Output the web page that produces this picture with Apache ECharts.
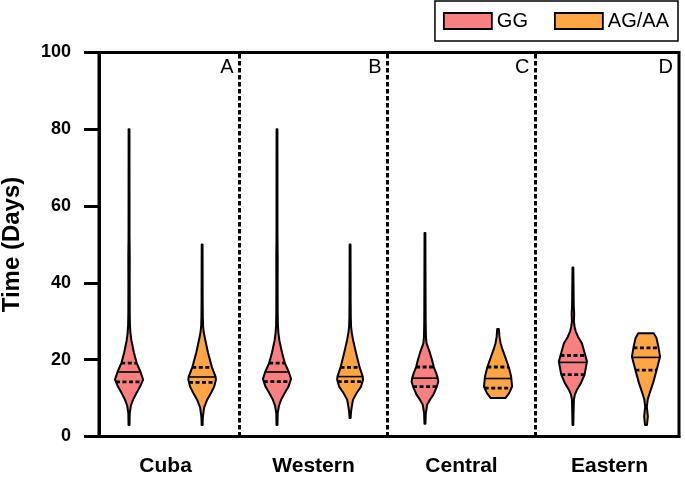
<!DOCTYPE html>
<html>
<head>
<meta charset="utf-8">
<script src="https://cdn.jsdelivr.net/npm/echarts@6/dist/echarts.min.js"></script>
<style>html,body{margin:0;padding:0;background:#fff}#c{width:685px;height:478px}</style>
</head>
<body>
<div id="c"></div>
<script>
// ---- data ----
const groups = ['Cuba', 'Western', 'Central', 'Eastern'];
const panelLetters = ['A', 'B', 'C', 'D'];
const separators = [0.5, 1.5, 2.5];

// density profiles: [days, relative density]
const ggCuba = [[3,.035],[6,.05],[8,.13],[9.6,.29],[11.4,.54],[13,.79],[14.8,1],[16.8,.82],[19.2,.54],[21.8,.35],[25,.17],[27,.1],[29,.065],[32,.05],[40,.045],[47,.05],[52,.035],[80,.03]];
const ggWestern = [[3,.035],[6,.05],[8,.14],[9.6,.3],[11.4,.56],[13,.82],[15,1],[16.8,.84],[19.1,.56],[21.8,.36],[25,.17],[27,.1],[29,.065],[32,.05],[40,.045],[47,.05],[52,.035],[80,.03]];
const ggCentral = [[3.3,.035],[6,.06],[8.3,.16],[9.6,.36],[10.9,.6],[12.9,.84],[14.3,.95],[15.2,.91],[16.5,.8],[18.1,.63],[20,.5],[21.7,.36],[24.3,.11],[26,.07],[30,.05],[40,.04],[53,.03]];
const ggEastern = [[3,.03],[6,.045],[9.6,.07],[10.9,.14],[12.2,.29],[13.9,.57],[16.1,.83],[19.5,1],[21.3,.87],[24.3,.64],[26,.36],[27.4,.2],[28.6,.12],[30,.07],[32,.09],[34,.06],[44,.03]];

const agCuba = [[3,.035],[5,.05],[7.5,.14],[9.6,.36],[11.4,.64],[13,.86],[14.8,.98],[15.5,.96],[18,.7],[21.8,.42],[25.2,.22],[27,.12],[28.6,.07],[31,.05],[35,.04],[50,.03]];
const agWestern = [[4.8,.035],[6.5,.07],[7.5,.11],[9.6,.21],[11.4,.48],[13,.78],[14.8,.92],[15.6,.9],[18,.68],[21.8,.42],[25,.22],[27,.12],[28.6,.07],[31,.05],[35,.04],[50,.03]];
const agCentral = [[10,.52],[11.3,.79],[13,1],[15.6,.93],[18.1,.76],[20.8,.5],[22.6,.32],[24.3,.18],[26,.1],[28,.06]];
const agEastern = [[3,.07],[5.2,.13],[7.8,.06],[9.6,.12],[11.3,.26],[13.9,.5],[17.4,.76],[20.8,1],[23.2,.89],[25.6,.75],[26.9,.55]];

const ggProfiles = [ggCuba, ggWestern, ggCentral, ggEastern];
const agProfiles = [agCuba, agWestern, agCentral, agEastern];

const ggQ1 = [14.2, 14.3, 13.0, 16.1];
const ggMedian = [16.8, 16.8, 15.2, 19.3];
const ggQ3 = [19.1, 19.1, 18.1, 21.1];
const agQ1 = [14.1, 14.3, 12.6, 17.3];
const agMedian = [15.5, 15.6, 15.1, 20.6];
const agQ3 = [18.0, 18.0, 18.1, 23.1];

// ---- styling ----
const PINK = '#F98080';
const ORANGE = '#FFA544';
const MAXHALF = 0.095;   // max half width in x-axis units
const OFFSET = 0.247;    // violin offset from group centre
const XMIN = -0.45, XMAX = 3.47;
const FONT = 'Liberation Sans, Arial, sans-serif';

function interp(prof, v) {
  if (v <= prof[0][0]) return prof[0][1];
  for (let i = 1; i < prof.length; i++) {
    if (v <= prof[i][0]) {
      const a = prof[i - 1], b = prof[i];
      return a[1] + (b[1] - a[1]) * (v - a[0]) / (b[0] - a[0]);
    }
  }
  return prof[prof.length - 1][1];
}

function violinRender(profiles, q1s, meds, q3s, offset, color) {
  return function (params, api) {
    const g = api.value(0);
    const prof = profiles[g];
    const cx = api.coord([g + offset, 0])[0];
    const halfPx = api.size([MAXHALF, 0])[0];
    const right = prof.map(p => [cx + p[1] * halfPx, api.coord([0, p[0]])[1]]);
    const left = prof.slice().reverse().map(p => [cx - p[1] * halfPx, api.coord([0, p[0]])[1]]);
    const children = [{
      type: 'polygon',
      shape: { points: right.concat(left) },
      style: { fill: color, stroke: '#000', lineWidth: 2, lineJoin: 'round' }
    }];
    const line = (v, dash, w) => {
      const hw = interp(prof, v) * halfPx;
      const y = api.coord([0, v])[1];
      children.push({
        type: 'line',
        shape: { x1: cx - hw, y1: y, x2: cx + hw, y2: y },
        style: { stroke: '#000', lineWidth: w, lineDash: dash }
      });
    };
    line(q1s[g], [4, 2.5], 2.8);
    line(q3s[g], [4, 2.5], 2.8);
    line(meds[g], null, 1.6);
    return { type: 'group', children };
  };
}

const chart = echarts.init(document.getElementById('c'), null, { renderer: 'canvas' });
const groupData = groups.map((_, i) => [i, 0]);

chart.setOption({
  animation: false,
  backgroundColor: '#fff',
  textStyle: { fontFamily: FONT },
  grid: { left: 99, right: 6, top: 52.5, bottom: 41.5, containLabel: false, outerBoundsMode: 'none',
    show: true, borderColor: '#000', borderWidth: 3, backgroundColor: 'transparent' },
  legend: {
    data: ['GG', 'AG/AA'],
    right: 7, top: 1,
    padding: [10, 9, 10, 8],
    borderColor: '#000', borderWidth: 1.5, borderRadius: 0,
    itemWidth: 48, itemHeight: 16, itemGap: 26,
    icon: 'rect',
    itemStyle: { borderColor: '#000', borderWidth: 1.8 },
    textStyle: { fontSize: 20, color: '#000', fontFamily: FONT }
  },
  xAxis: {
    type: 'value', min: XMIN, max: XMAX,
    splitLine: { show: false },
    axisLine: { show: true, onZero: false, lineStyle: { color: '#000', width: 3 } },
    axisTick: { show: false },
    axisLabel: {
      customValues: [0, 1, 2, 3],
      formatter: v => groups[Math.round(v)] || '',
      fontSize: 21, fontWeight: 'bold', color: '#000', margin: 19
    }
  },
  yAxis: {
    type: 'value', min: 0, max: 100, interval: 20,
    name: 'Time (Days)', nameLocation: 'middle', nameGap: 75,
    nameTextStyle: { fontSize: 24, fontWeight: 'bold', color: '#000' },
    splitLine: { show: false },
    axisLine: { show: true, onZero: false, lineStyle: { color: '#000', width: 3 } },
    axisTick: { show: true, inside: false, length: 15, lineStyle: { color: '#000', width: 3 } },
    axisLabel: { fontSize: 18, fontWeight: 'bold', color: '#000', margin: 28 }
  },
  series: [
    {
      name: 'GG', type: 'custom', data: groupData,
      encode: { x: 0, y: 1 },
      itemStyle: { color: PINK, borderColor: '#000', borderWidth: 1.8 },
      renderItem: violinRender(ggProfiles, ggQ1, ggMedian, ggQ3, -OFFSET, PINK),
      z: 3
    },
    {
      name: 'AG/AA', type: 'custom', data: groupData,
      encode: { x: 0, y: 1 },
      itemStyle: { color: ORANGE, borderColor: '#000', borderWidth: 1.8 },
      renderItem: violinRender(agProfiles, agQ1, agMedian, agQ3, OFFSET, ORANGE),
      z: 3
    },
    {
      name: 'panels', type: 'custom', data: groupData,
      encode: { x: 0, y: 1 }, clip: false, silent: true,
      renderItem: function (params, api) {
        const g = api.value(0);
        const rightEdge = api.coord([Math.min(g + 0.5, XMAX), 0])[0];
        const y = api.coord([0, 96.2])[1];
        return {
          type: 'text',
          style: { x: rightEdge - 6, y: y, text: panelLetters[g], fill: '#000', fontSize: 20,
            fontFamily: FONT, align: 'right', verticalAlign: 'middle' }
        };
      },
      markLine: {
        silent: true, symbol: ['none', 'none'],
        label: { show: false },
        lineStyle: { color: '#000', width: 3, type: [4.5, 2.5] },
        data: separators.map(s => ({ xAxis: s }))
      },
      z: 2
    }
  ]
});
</script>
</body>
</html>
